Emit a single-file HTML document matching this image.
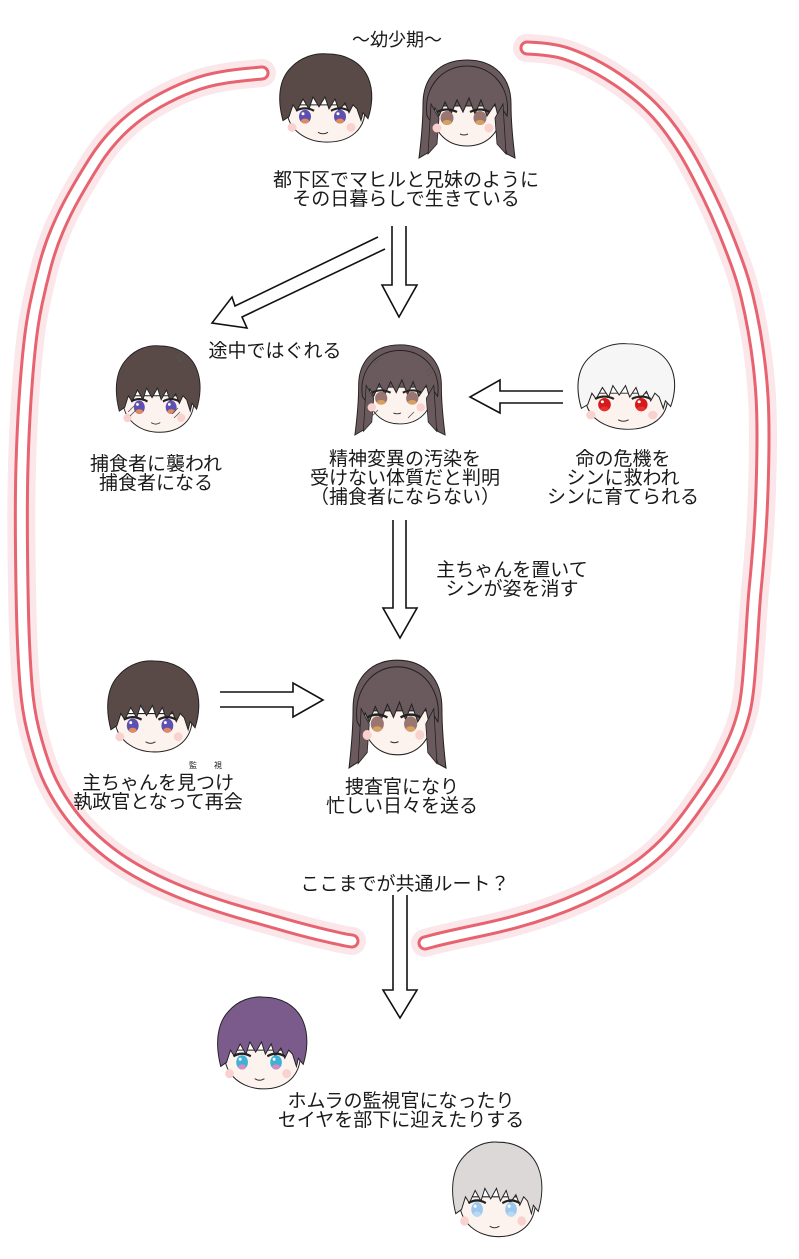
<!DOCTYPE html>
<html>
<head>
<meta charset="utf-8">
<style>
  html,body{margin:0;padding:0;background:#fff;}
  body{width:799px;height:1259px;position:relative;overflow:hidden;
       font-family:"Liberation Sans","Noto Sans CJK JP",sans-serif;color:#1a1a1a;}
  svg{position:absolute;left:0;top:0;}
  .t{position:absolute;text-align:center;white-space:nowrap;font-size:19px;line-height:19px;}
</style>
</head>
<body>
<svg width="799" height="1259" viewBox="0 0 799 1259" xmlns="http://www.w3.org/2000/svg">
  <defs>
    <g id="boy">
      <path d="M12 56 C10 82 32 94 52 94 C74 94 92 82 90 56 Z" fill="#fdf3ee" stroke="#222" stroke-width="1"/>
      <path d="M8 72 C2 50 4 30 16 18 C26 7 40 3 52 4 C70 4 86 12 93 28 C99 42 97 58 93 70 L88 64 L86 72 L82 60 L78 56 L74 64 L70 54 L64 62 L60 50 L54 60 L50 48 L44 58 L38 48 L34 60 L28 50 L22 62 L18 56 L14 68 Z" style="fill:var(--hair,#594a48)" stroke="#222" stroke-width="1"/>
      <circle cx="17" cy="79" r="4.5" fill="#f9d2d0"/>
      <circle cx="76" cy="79" r="4.5" fill="#f9d2d0"/>
      <ellipse cx="30" cy="68" rx="6" ry="7" style="fill:var(--eye,#5d50b0)"/>
      <ellipse cx="30" cy="72.5" rx="4" ry="2.5" style="fill:var(--eye2,#e08a60)"/>
      <circle cx="28" cy="65" r="1.5" fill="#fff"/>
      <path d="M21 62 Q30 57 39 62" stroke="#222" stroke-width="2.2" fill="none"/>
      <ellipse cx="65" cy="68" rx="6" ry="7" style="fill:var(--eye,#5d50b0)"/>
      <ellipse cx="65" cy="72.5" rx="4" ry="2.5" style="fill:var(--eye2,#e08a60)"/>
      <circle cx="63" cy="65" r="1.5" fill="#fff"/>
      <path d="M56 62 Q65 57 74 62" stroke="#222" stroke-width="2.2" fill="none"/>
      <path d="M43 84 Q48 87 53 84" stroke="#333" stroke-width="1" fill="none"/>
    </g>
    <g id="girl">
      <path d="M50 2 C22 2 6 20 6 46 C6 66 4 84 2 100 L12 94 L16 80 L20 60 L82 60 L86 84 L90 96 L98 100 C96 84 94 66 94 46 C94 20 78 2 50 2 Z" style="fill:var(--hair,#6a5a5e)" stroke="#222" stroke-width="1"/>
      <path d="M16 48 C14 76 32 88 50 88 C68 88 86 76 84 48 Z" fill="#fdf3ee" stroke="#222" stroke-width="1"/>
      <path d="M10 58 C6 28 26 8 50 8 C74 8 94 28 90 58 L86 52 L82 62 L78 46 L70 58 L64 42 L58 56 L52 40 L46 54 L40 42 L34 56 L28 44 L22 58 L18 50 L14 64 Z" style="fill:var(--hair,#6a5a5e)" stroke="#222" stroke-width="1"/>
      <path d="M14 46 L11 96 L20 86 L22 60 Z" style="fill:var(--hair,#6a5a5e)" stroke="#222" stroke-width="0.8"/>
      <path d="M86 46 L89 96 L80 86 L78 60 Z" style="fill:var(--hair,#6a5a5e)" stroke="#222" stroke-width="0.8"/>
      <circle cx="20" cy="70" r="4.5" fill="#f9d2d0"/>
      <circle cx="72" cy="70" r="4.5" fill="#f9d2d0"/>
      <ellipse cx="30" cy="60" rx="6.5" ry="7" fill="#9a7670"/>
      <ellipse cx="30" cy="64.5" rx="4.5" ry="2.5" fill="#d8a060"/>
      <path d="M20 54 Q30 49 40 54" stroke="#222" stroke-width="2.2" fill="none"/>
      <ellipse cx="63" cy="60" rx="6.5" ry="7" fill="#9a7670"/>
      <ellipse cx="63" cy="64.5" rx="4.5" ry="2.5" fill="#d8a060"/>
      <path d="M53 54 Q63 49 73 54" stroke="#222" stroke-width="2.2" fill="none"/>
      <path d="M43 76 Q47 78 51 76" stroke="#333" stroke-width="1" fill="none"/>
    </g>
    <path id="lcurve" d="M262 73 L246 74.5 Q230 76 215 79 Q200 82 182.5 89.5 Q165 97 149 107 Q133 117 119 131 Q105 145 94 162.5 Q83 180 74 196 Q65 212 57.5 229.5 Q50 247 45 266 Q40 285 36 304 Q32 323 29.5 346.5 Q27 370 25 400 Q23 430 22 465 Q21 500 21.5 550 Q22 600 23 630 Q24 660 26 685 Q28 710 33 730 Q38 750 44 766.5 Q50 783 60 799 Q70 815 81.5 827.5 Q93 840 109 852.5 Q125 865 146 876 Q167 887 191 896 Q215 905 241 912.5 Q267 920 288.5 926 Q310 932 327.5 936 Q345 940 348.5 940.5 L352 941"/>
    <path id="rcurve" d="M527 48 L536 48.5 Q545 49 556 51 Q567 53 583.5 60.5 Q600 68 616.5 79 Q633 90 646.5 102.5 Q660 115 671.5 131 Q683 147 691.5 162.5 Q700 178 708.5 195.5 Q717 213 724 230 Q731 247 737 263.5 Q743 280 747 296.5 Q751 313 754 330 Q757 347 759 363.5 Q761 380 762 396.5 Q763 413 763 436.5 Q763 460 762 490 Q761 520 759 545 Q757 570 755.5 585 Q754 600 752.5 625 Q751 650 749 675 Q747 700 743.5 713.5 Q740 727 735 738.5 Q730 750 723.5 762.5 Q717 775 708.5 787.5 Q700 800 691 812.5 Q682 825 671 837.5 Q660 850 646 861 Q632 872 616 881 Q600 890 583.5 897.5 Q567 905 550 911 Q533 917 516.5 921.5 Q500 926 483.5 929.5 Q467 933 453.5 936 Q440 939 432.5 941 L425 943"/>
  </defs>

  <!-- red double-line curves -->
  <g fill="none" stroke-linecap="round" stroke-linejoin="round">
    <use href="#lcurve" stroke="#fbe6e9" stroke-width="28"/>
    <use href="#lcurve" stroke="#e6636f" stroke-width="15"/>
    <use href="#lcurve" stroke="#ffffff" stroke-width="9"/>
    <use href="#rcurve" stroke="#fbe6e9" stroke-width="28"/>
    <use href="#rcurve" stroke="#e6636f" stroke-width="15"/>
    <use href="#rcurve" stroke="#ffffff" stroke-width="9"/>
  </g>

  <!-- arrows -->
  <g fill="#fff" stroke="#111" stroke-width="1.6" stroke-linejoin="miter">
    <path d="M392 226 L392 285 L382 285 L399 317 L417 285 L406 285 L406 226"/>
    <path d="M378 237 L235 306 L232 297 L212 323 L247 328 L242 317 L385 249"/>
    <path d="M563 391 L500 391 L500 380 L470 397 L500 413 L500 403 L563 403"/>
    <path d="M393 520 L393 608 L383 608 L400 638 L417 608 L406 608 L406 520"/>
    <path d="M220 692 L293 692 L293 683 L323 700 L293 717 L293 707 L220 707"/>
    <path d="M393 895 L393 990 L383 990 L400 1018 L417 990 L407 990 L407 895"/>
  </g>

  <!-- faces -->
  <use href="#boy" transform="translate(275,50) scale(1,0.98)"/>
  <use href="#girl" transform="translate(417,58) scale(1,1)"/>
  <use href="#boy" transform="translate(112,342) scale(0.91,0.96)"/>
  <use href="#girl" transform="translate(353,343) scale(0.94,0.92)"/>
  <use href="#boy" transform="translate(573,340) scale(1.05,0.95)" style="--hair:#f6f6f6;--eye:#d41a1a;--eye2:#e83030"/>
  <use href="#boy" transform="translate(103,657) scale(0.99,1.01)"/>
  <use href="#girl" transform="translate(347,658) scale(1.01,1.1)"/>
  <use href="#boy" transform="translate(213,993) scale(0.97,1.02)" style="--hair:#7b5b8c;--eye:#3fb0d6;--eye2:#d88ac0"/>
  <use href="#boy" transform="translate(448,1138) scale(0.97,1.05)" style="--hair:#dcd8d8;--eye:#9cc8ee;--eye2:#b8d8f4"/>

  <!-- scratches -->
  <g stroke="#555" stroke-width="0.8" fill="none">
    <path d="M176 358 L182 352 M178 362 L184 356 M175 355 L183 363"/>
    <path d="M128 412 L134 406 M130 416 L136 410"/>
    <path d="M172 414 L178 408 M174 418 L180 412"/>
    <path d="M372 360 L378 354 M374 364 L380 358"/>
    <path d="M426 372 L432 366 M428 376 L434 370"/>
    <path d="M372 416 L378 410 M408 418 L414 412"/>
  </g>
</svg>

<div class="t" style="left:337px;width:120px;top:31px;font-size:18px;">～幼少期～</div>
<div class="t" style="left:256px;width:300px;top:171px;">都下区でマヒルと兄妹のように<br>その日暮らしで生きている</div>
<div class="t" style="left:195px;width:160px;top:342px;">途中ではぐれる</div>
<div class="t" style="left:76px;width:160px;top:455px;">捕食者に襲われ<br>捕食者になる</div>
<div class="t" style="left:295px;width:220px;top:450px;">精神変異の汚染を<br>受けない体質だと判明<br>（捕食者にならない）</div>
<div class="t" style="left:533px;width:180px;top:450px;">命の危機を<br>シンに救われ<br>シンに育てられる</div>
<div class="t" style="left:422px;width:180px;top:561px;">主ちゃんを置いて<br>シンが姿を消す</div>
<div style="position:absolute;left:189px;top:762px;font-size:8px;line-height:8px;white-space:nowrap;">監<span style="display:inline-block;width:17px"></span>視</div>
<div class="t" style="left:58px;width:200px;top:774px;">主ちゃんを見つけ<br>執政官となって再会</div>
<div class="t" style="left:302px;width:200px;top:778px;">捜査官になり<br>忙しい日々を送る</div>
<div class="t" style="left:285px;width:240px;top:875px;">ここまでが共通ルート？</div>
<div class="t" style="left:261px;width:280px;top:1092px;">ホムラの監視官になったり<br>セイヤを部下に迎えたりする</div>
</body>
</html>
